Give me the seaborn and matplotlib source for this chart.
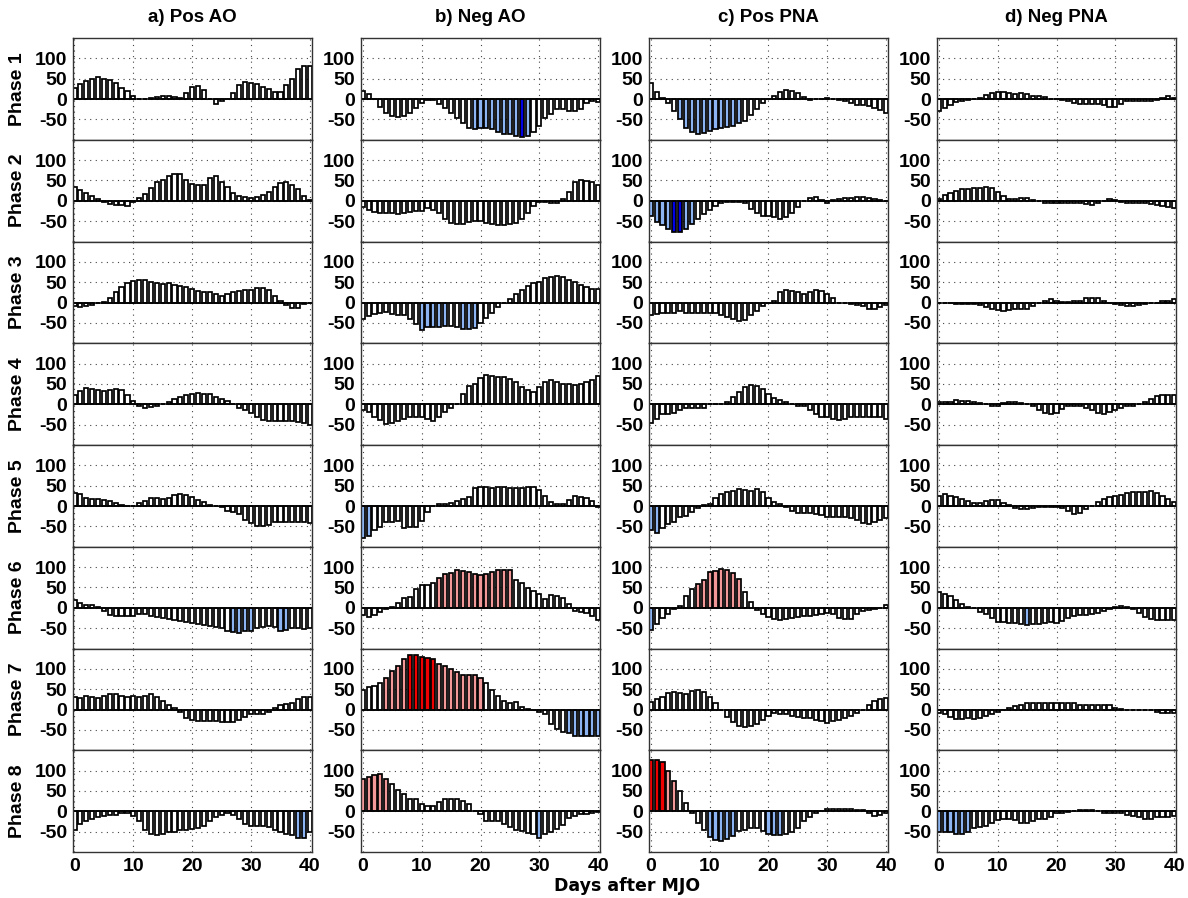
import numpy as np
import pandas as pd
import matplotlib
matplotlib.use("Agg")
import matplotlib.pyplot as plt
import seaborn as sns

# ---------------- data ----------------
days = list(range(41))
column_titles = ["a) Pos AO", "b) Neg AO", "c) Pos PNA", "d) Neg PNA"]
phase_labels = ["Phase 1", "Phase 2", "Phase 3", "Phase 4",
                "Phase 5", "Phase 6", "Phase 7", "Phase 8"]
y_ticks = [-50, 0, 50, 100]
x_ticks = [0, 10, 20, 30, 40]
x_label = "Days after MJO"

# a) Pos AO
pos_ao_p1 = [28, 36, 44, 49, 53, 50, 47, 40, 28, 20, 8, 1, -1, 3, 6, 8, 8, 6, 2, 15,
             30, 33, 22, 0, -12, -6, 0, 15, 35, 43, 40, 37, 30, 25, 18, 17, 35, 50, 75, 82, 80]
pos_ao_p2 = [33, 27, 18, 12, 4, -2, -8, -10, -10, -12, -4, 8, 17, 32, 46, 52, 62, 67, 67, 52,
             42, 40, 40, 55, 60, 45, 33, 19, 12, 10, 8, 10, 14, 22, 35, 44, 45, 38, 28, 12, 3]
pos_ao_p3 = [-8, -10, -8, -5, -2, 2, 12, 25, 38, 47, 52, 55, 55, 50, 47, 45, 47, 43, 40, 37,
             33, 28, 25, 25, 20, 17, 22, 25, 28, 30, 32, 35, 35, 30, 15, 3, -5, -13, -13, -3, 0]
pos_ao_p4 = [24, 33, 40, 37, 35, 33, 34, 37, 35, 22, 8, -5, -8, -6, -3, 0, 5, 12, 18, 22,
             25, 27, 26, 25, 18, 12, 8, 0, -8, -14, -22, -30, -38, -42, -40, -40, -40, -42, -44, -47, -52]
pos_ao_p5 = [32, 30, 20, 18, 17, 16, 13, 8, 3, 0, 0, 7, 13, 20, 19, 18, 20, 26, 30, 28,
             22, 15, 9, 3, 0, -2, -12, -15, -20, -35, -42, -48, -48, -47, -40, -38, -38, -38, -40, -40, -42]
pos_ao_p6 = [20, 11, 7, 6, 2, -8, -18, -20, -20, -20, -20, -15, -15, -20, -22, -25, -28, -30, -32, -35,
             -38, -40, -42, -45, -48, -50, -57, -60, -62, -58, -58, -50, -48, -45, -48, -58, -55, -50, -50, -52, -50]
pos_ao_p7 = [32, 28, 34, 32, 28, 34, 38, 37, 34, 32, 33, 32, 34, 37, 30, 21, 11, 4, -6, -20,
             -25, -28, -28, -28, -28, -30, -30, -30, -25, -18, -12, -12, -12, -5, 5, 12, 13, 15, 25, 32, 30]
pos_ao_p8 = [-45, -30, -25, -18, -15, -12, -10, -8, -5, -5, -12, -25, -45, -55, -58, -55, -52, -50, -47, -45,
             -43, -40, -35, -25, -15, -10, -5, -10, -20, -30, -35, -35, -35, -38, -45, -52, -55, -58, -65, -65, -50]

# b) Neg AO
neg_ao_p1 = [21, 13, -1, -20, -34, -41, -44, -41, -34, -22, -10, -3, -2, -12, -22, -34, -47, -59, -71, -73,
             -70, -70, -73, -80, -86, -86, -90, -94, -90, -80, -65, -47, -37, -25, -25, -29, -30, -25, -10, -6, -8]
neg_ao_p2 = [-15, -22, -28, -30, -30, -30, -32, -30, -28, -25, -25, -18, -22, -30, -45, -55, -57, -57, -52, -50,
             -50, -55, -57, -60, -60, -58, -55, -45, -30, -12, -2, -3, -5, -5, 5, 22, 46, 50, 48, 45, 40]
neg_ao_p3 = [-41, -33, -29, -25, -23, -27, -30, -31, -41, -52, -68, -61, -60, -60, -58, -58, -60, -66, -66, -63,
             -50, -37, -25, -10, -1, 8, 20, 30, 40, 47, 51, 60, 63, 65, 62, 56, 50, 43, 37, 33, 33]
neg_ao_p4 = [-15, -20, -30, -38, -48, -45, -40, -35, -32, -30, -30, -35, -40, -30, -18, -10, 0, 26, 44, 49,
             65, 71, 69, 67, 66, 63, 55, 43, 34, 30, 43, 55, 59, 55, 51, 49, 47, 51, 55, 60, 69]
neg_ao_p5 = [-78, -73, -59, -51, -40, -38, -36, -53, -51, -51, -36, -15, 0, 5, 5, 8, 12, 18, 22, 45,
             47, 47, 45, 48, 48, 45, 45, 45, 48, 48, 40, 25, 10, 5, 5, 15, 25, 22, 20, 12, -3]
neg_ao_p6 = [-18, -22, -18, -10, -4, 2, 12, 25, 27, 46, 57, 57, 60, 72, 83, 86, 93, 91, 89, 83,
             81, 83, 89, 94, 94, 93, 68, 60, 49, 41, 33, 21, 31, 29, 25, 9, -7, -10, -14, -20, -29]
neg_ao_p7 = [47, 55, 57, 65, 77, 94, 108, 125, 135, 133, 129, 126, 125, 112, 108, 100, 92, 86, 84, 84,
             77, 65, 48, 33, 20, 16, 18, 7, 2, 0, -7, -11, -35, -48, -56, -58, -64, -64, -64, -64, -64]
neg_ao_p8 = [80, 85, 90, 92, 80, 66, 52, 43, 30, 29, 18, 14, 14, 22, 29, 29, 29, 25, 18, 0,
             -7, -23, -23, -23, -31, -39, -45, -48, -53, -57, -66, -57, -52, -43, -33, -16, -11, -7, -7, -5, -2]

# c) Pos PNA
pos_pna_p1 = [40, 18, 3, -10, -30, -50, -70, -82, -87, -84, -78, -73, -70, -68, -65, -60, -55, -40, -25, -10,
              0, 8, 18, 22, 20, 15, 5, -2, 0, 0, 3, 0, -2, -5, -10, -15, -15, -18, -22, -28, -35]
pos_pna_p2 = [-38, -51, -60, -70, -77, -77, -70, -58, -45, -32, -22, -13, -6, -4, -3, -4, -5, -20, -30, -38,
              -38, -40, -45, -40, -30, -15, 0, 8, 10, 2, -5, 2, 5, 8, 8, 10, 10, 8, 5, 3, 0]
pos_pna_p3 = [-30, -28, -25, -25, -25, -20, -25, -25, -25, -25, -25, -25, -30, -35, -40, -45, -42, -30, -20, -8,
              0, 5, 25, 30, 28, 25, 22, 25, 30, 28, 22, 12, 0, -2, -3, -5, -8, -15, -15, -10, -5]
pos_pna_p4 = [-47, -35, -25, -25, -22, -15, -10, -10, -8, -10, 0, 0, 0, 5, 18, 30, 42, 48, 45, 38,
              25, 15, 10, 5, 0, -3, -5, -15, -25, -30, -32, -35, -38, -35, -30, -30, -30, -32, -30, -30, -35]
pos_pna_p5 = [-60, -65, -55, -45, -38, -28, -25, -15, -5, 3, 5, 20, 30, 35, 38, 42, 40, 38, 42, 35,
              20, 10, 5, -3, -12, -18, -18, -18, -20, -22, -28, -28, -28, -28, -30, -35, -42, -45, -38, -35, -30]
pos_pna_p6 = [-55, -40, -25, -15, -4, 5, 28, 45, 58, 68, 88, 90, 95, 92, 85, 70, 38, 15, -5, -15,
              -22, -28, -30, -28, -25, -22, -20, -20, -18, -15, -12, -15, -25, -28, -28, -15, -8, -5, -3, 0, 8]
pos_pna_p7 = [18, 25, 32, 40, 42, 40, 38, 45, 48, 42, 30, 15, 0, -18, -30, -40, -42, -40, -35, -25,
              -15, -8, -10, -12, -15, -18, -20, -20, -25, -28, -32, -28, -25, -20, -15, -8, -2, 10, 20, 25, 28]
pos_pna_p8 = [125, 125, 120, 100, 75, 50, 20, -5, -28, -45, -62, -70, -72, -68, -60, -48, -45, -42, -42, -48,
              -55, -58, -58, -55, -50, -40, -25, -15, -5, 0, 5, 5, 5, 5, 5, 3, 2, -5, -12, -8, -5]

# d) Neg PNA
neg_pna_p1 = [-30, -22, -15, -8, -5, -3, 0, 3, 10, 15, 18, 18, 15, 12, 15, 12, 8, 8, 5, 0,
              0, -3, -5, -10, -12, -12, -12, -12, -15, -20, -20, -12, -5, -5, -5, -5, -5, -2, 3, 8, 3]
neg_pna_p2 = [5, 15, 20, 25, 28, 30, 32, 32, 35, 32, 22, 12, 5, 5, 8, 8, 2, 0, -5, -5,
              -5, -5, -5, -5, -5, -8, -10, -5, 0, 5, 2, -3, -5, -5, -5, -5, -8, -10, -12, -15, -18]
neg_pna_p3 = [0, -2, -2, -3, -3, -3, -3, -5, -12, -15, -18, -20, -18, -15, -15, -15, -8, -2, 3, 8,
              5, 2, 2, 3, 5, 10, 12, 12, 5, 0, -3, -5, -8, -8, -5, -3, -2, 0, 3, 5, 8]
neg_pna_p4 = [5, 5, 5, 10, 8, 8, 5, 2, 0, -5, -3, 2, 5, 5, 3, 0, -5, -15, -22, -25,
              -22, -12, -5, -3, -5, -10, -15, -22, -25, -18, -15, -10, -5, -3, 0, 5, 12, 20, 22, 22, 22]
neg_pna_p5 = [25, 30, 25, 22, 18, 12, 8, 8, 12, 15, 15, 8, 3, -5, -8, -8, -5, -3, -3, -3,
              -2, -5, -12, -20, -18, -8, 0, 10, 18, 22, 25, 28, 32, 35, 35, 35, 38, 32, 25, 18, 10]
neg_pna_p6 = [40, 35, 28, 20, 10, 3, 0, -10, -15, -25, -35, -35, -38, -38, -40, -42, -40, -40, -38, -35,
              -38, -32, -25, -20, -18, -18, -15, -12, -8, -3, 2, 5, 3, -3, -12, -22, -28, -30, -30, -30, -30]
neg_pna_p7 = [-8, -12, -18, -22, -22, -20, -22, -20, -15, -10, -5, 0, 3, 8, 12, 15, 15, 15, 15, 15,
              15, 15, 15, 15, 12, 10, 10, 10, 12, 12, 5, 2, 0, 0, 0, 0, -2, -5, -8, -8, -8]
neg_pna_p8 = [-50, -50, -52, -55, -55, -50, -40, -38, -35, -28, -22, -20, -20, -22, -28, -28, -25, -20, -18, -15,
              -5, -3, -2, 0, 3, 3, 2, 0, -5, -5, -3, -5, -8, -12, -15, -18, -18, -15, -15, -15, -12]

# significance classes: (column index, phase index) -> days
sig_light_blue = {(0, 5): [27, 28, 29, 30, 35, 36], (0, 7): [38, 39],
                  (1, 0): [19, 20, 21, 22, 23, 24, 25, 26, 28],
                  (1, 2): [10, 11, 12, 13, 14, 17, 18, 19], (1, 4): [0, 1],
                  (1, 6): [35, 36, 37, 38, 39, 40], (1, 7): [30],
                  (2, 0): list(range(5, 16)), (2, 1): [0, 1, 2, 3, 6, 7],
                  (2, 4): [0, 1], (2, 5): [0], (2, 7): [10, 11, 12, 13, 14, 20, 21, 22],
                  (3, 5): [15], (3, 7): [0, 1, 2, 3, 4, 5]}
sig_dark_blue = {(1, 0): [27], (2, 1): [4, 5]}
sig_pink = {(1, 5): list(range(13, 26)), (1, 6): [4, 5, 6, 7] + list(range(13, 21)),
            (1, 7): [0, 1, 2, 3, 4], (2, 5): list(range(8, 16)), (2, 7): [3, 4]}
sig_red = {(1, 6): [8, 9, 10, 11, 12], (2, 7): [0, 1, 2]}

panels = [
    [pos_ao_p1, pos_ao_p2, pos_ao_p3, pos_ao_p4, pos_ao_p5, pos_ao_p6, pos_ao_p7, pos_ao_p8],
    [neg_ao_p1, neg_ao_p2, neg_ao_p3, neg_ao_p4, neg_ao_p5, neg_ao_p6, neg_ao_p7, neg_ao_p8],
    [pos_pna_p1, pos_pna_p2, pos_pna_p3, pos_pna_p4, pos_pna_p5, pos_pna_p6, pos_pna_p7, pos_pna_p8],
    [neg_pna_p1, neg_pna_p2, neg_pna_p3, neg_pna_p4, neg_pna_p5, neg_pna_p6, neg_pna_p7, neg_pna_p8],
]

# ---------------- style ----------------
sns.set_style("white")
plt.rcParams["font.family"] = ["Liberation Sans", "DejaVu Sans"]
plt.rcParams["font.weight"] = "bold"
plt.rcParams["text.color"] = "black"
plt.rcParams["xtick.color"] = "black"
plt.rcParams["ytick.color"] = "black"
plt.rcParams["xtick.labelcolor"] = "black"
plt.rcParams["ytick.labelcolor"] = "black"

C_WHITE = "#FFFFFF"
C_LBLUE = "#8DB4F2"
C_DBLUE = "#0000E6"
C_PINK = "#F29898"
C_RED = "#F00000"

W, H = 1188, 898
fig = plt.figure(figsize=(W / 100, H / 100), dpi=100)

col_left = [72.7, 361, 649, 937]
col_w = 239
top0 = 38
row_h = 101.75

for ci in range(4):
    for ri in range(8):
        vals = panels[ci][ri]
        colors = {}
        for d in days:
            c = C_WHITE
            if d in sig_light_blue.get((ci, ri), []):
                c = C_LBLUE
            if d in sig_dark_blue.get((ci, ri), []):
                c = C_DBLUE
            if d in sig_pink.get((ci, ri), []):
                c = C_PINK
            if d in sig_red.get((ci, ri), []):
                c = C_RED
            colors[d] = c
        df = pd.DataFrame({"day": days, "val": vals})
        y_top = top0 + ri * row_h
        ax = fig.add_axes([col_left[ci] / W, 1 - (y_top + row_h) / H, col_w / W, row_h / H])
        ax.set_axisbelow(True)
        sns.barplot(data=df, x="day", y="val", hue="day", palette=colors, legend=False,
                    dodge=False, native_scale=True, width=0.7, saturation=1,
                    errorbar=None, edgecolor="black", linewidth=1.25, ax=ax)
        ax.axhline(0, color="black", lw=1.1, zorder=1.5)
        ax.set_xlim(-0.3, 40.3)
        ax.set_ylim(-100, 150)
        ax.set_xticks(x_ticks)
        ax.set_yticks(y_ticks)
        ax.set_xlabel("")
        ax.set_ylabel("")
        ax.grid(True, color="#444444", linestyle=(0, (1, 4)), linewidth=0.8)
        ax.tick_params(length=0, pad=4, labelsize=14, colors="black")
        ax.set_yticklabels([str(v) for v in y_ticks], fontweight="bold", color="black")
        if ri == 7:
            ax.set_xticklabels([str(v) for v in x_ticks], fontweight="bold", color="black")
        else:
            ax.set_xticklabels([])
        for s in ax.spines.values():
            s.set_color("#333333")
            s.set_linewidth(1.0)
        if ci == 0:
            fig.text(17 / W, 1 - (y_top + row_h / 2) / H, phase_labels[ri], rotation=90,
                     ha="center", va="center", fontsize=14, fontweight="bold", color="black")
    fig.text((col_left[ci] + col_w / 2) / W, 1 - 18 / H, column_titles[ci],
             ha="center", va="center", fontsize=13.5, fontweight="bold", color="black")

fig.text(627 / W, 1 - 886 / H, x_label, ha="center", va="center",
         fontsize=12.5, fontweight="bold", family="DejaVu Sans", color="black")

fig.savefig("out.png", dpi=100)
